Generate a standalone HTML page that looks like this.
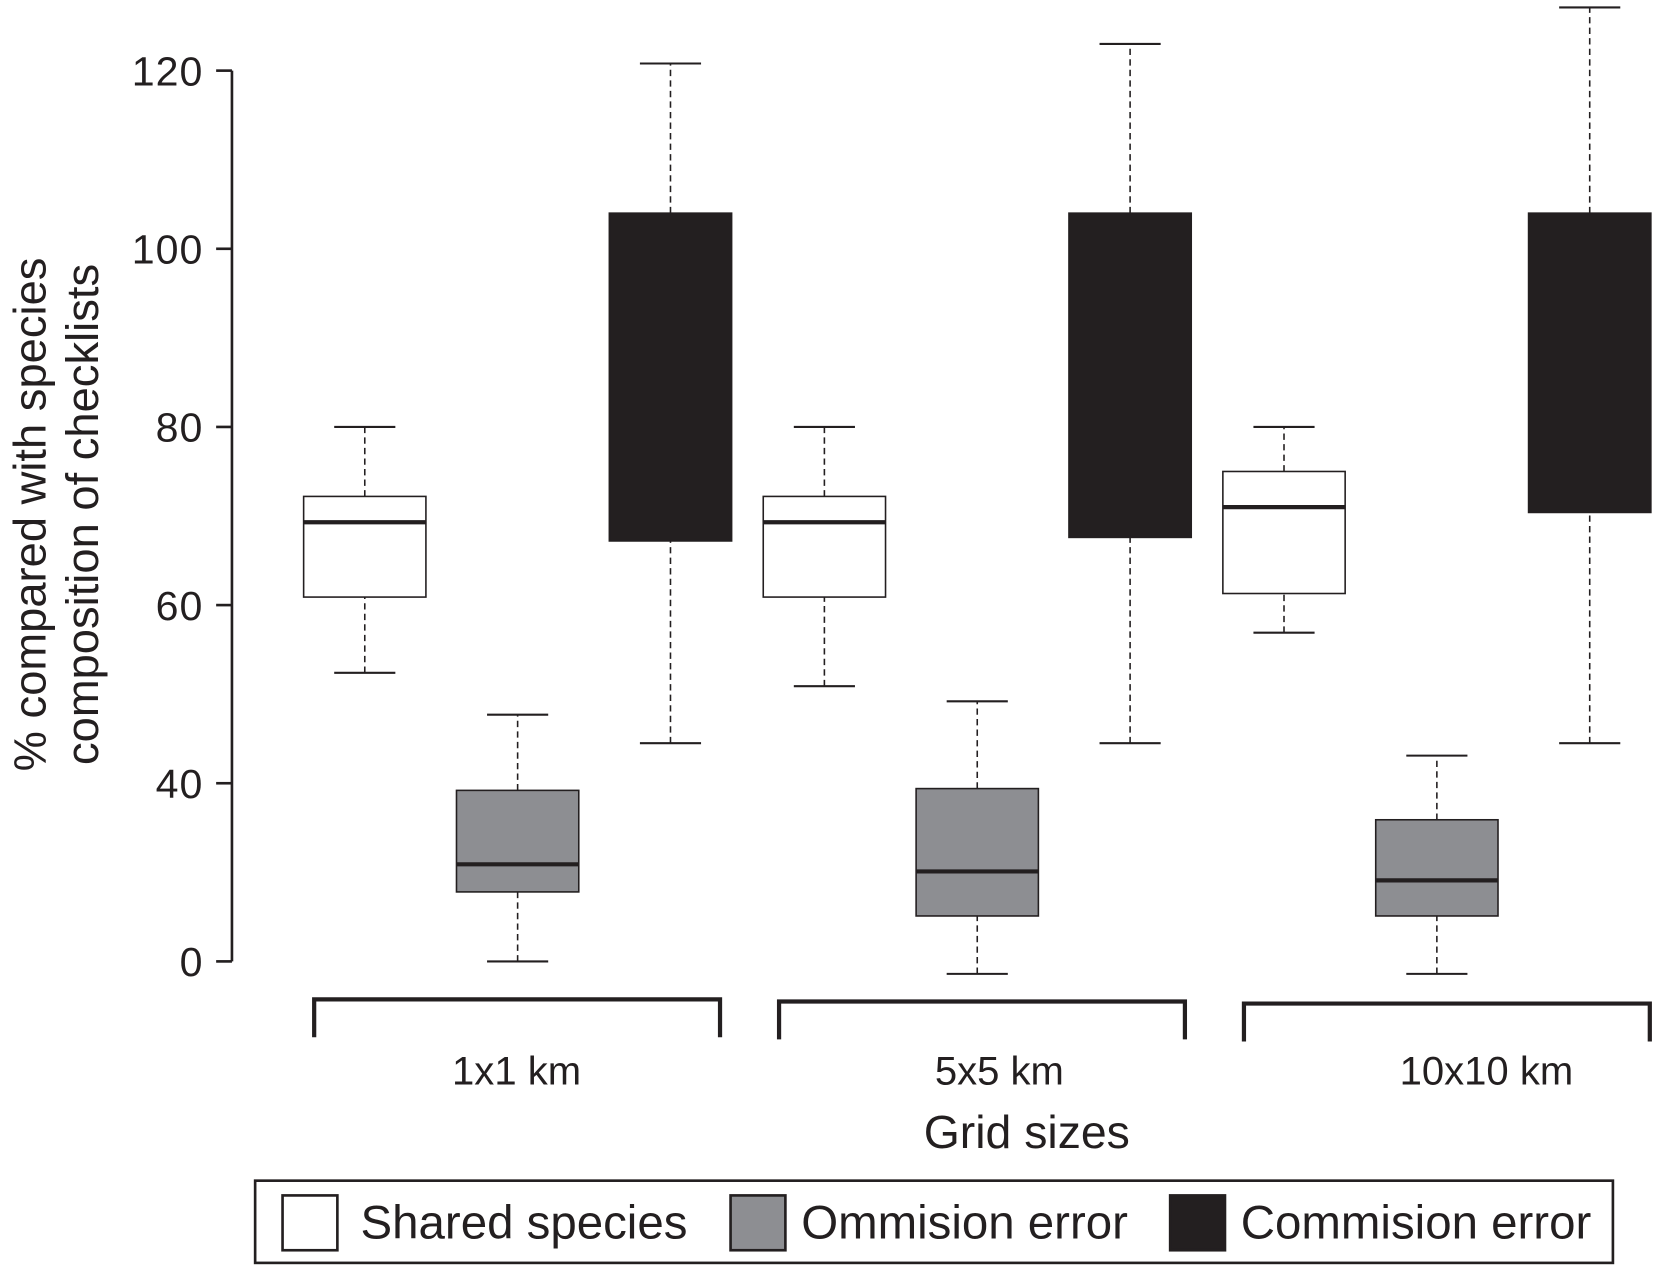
<!DOCTYPE html>
<html><head><meta charset="utf-8"><style>
html,body{margin:0;padding:0;background:#fff;}
svg{display:block;font-family:"Liberation Sans",Arial,sans-serif;}
</style></head><body>
<svg id="chart" width="1653" height="1265" viewBox="0 0 1568 1200" xmlns="http://www.w3.org/2000/svg">
<g id="axis"></g>
<g id="boxes"></g>
<g id="groups"></g>
<text x="974" y="1089" font-size="44" text-anchor="middle" fill="#231f20">Grid sizes</text>
<g transform="translate(53,488) rotate(-90)" fill="#231f20" font-size="43" text-anchor="middle">
<text x="0" y="-10">% compared with species</text>
<text x="0" y="40">composition of checklists</text>
</g>
<g>
<rect x="242" y="1120" width="1288" height="78" fill="#fff" stroke="#231f20" stroke-width="2.5"/>
<g><rect x="268" y="1134" width="52" height="52" fill="#fff" stroke="#231f20" stroke-width="2.5"/><text x="342" y="1175" font-size="45" fill="#231f20">Shared species</text></g>
<g><rect x="693" y="1134" width="52" height="52" fill="#8d8e92" stroke="#231f20" stroke-width="2.5"/><text x="760" y="1175" font-size="45" fill="#231f20">Ommision error</text></g>
<g><rect x="1110" y="1134" width="52" height="52" fill="#231f20" stroke="#231f20" stroke-width="2.5"/><text x="1177" y="1175" font-size="45" fill="#231f20">Commision error</text></g>
</g>
</svg>
<script>
const groups = ['1x1 km','5x5 km','10x10 km'];
const seriesNames = ['Shared species','Ommision error','Commision error'];
const tickValues = [20,40,60,80,100,120];
const tickLabels = ['0','40','60','80','100','120'];
// each: [whiskerLow, q1, median, q3, whiskerHigh]
const shared = [[52.4,60.9,69.3,72.2,80],[50.9,60.9,69.3,72.2,80],[56.9,61.3,71,75,80]];
const ommision = [[20,27.8,30.9,39.2,47.7],[18.6,25.1,30.1,39.4,49.2],[18.6,25.1,29.1,35.9,43.1]];
const commision = [[44.5,67.2,null,104,120.8],[44.5,67.6,null,104,123],[44.5,70.4,null,104,127.1]];

const NS='http://www.w3.org/2000/svg';
const ink='#231f20';
function y(v){return 912-(v-20)*8.45;}
function gx(g,s){return 346+g*436+s*145;}
function mk(tag,attrs,parent){const e=document.createElementNS(NS,tag);for(const k in attrs)e.setAttribute(k,attrs[k]);parent.appendChild(e);return e;}
const ax=document.getElementById('axis');
let l=mk('line',{x1:220,x2:220,y1:y(120),y2:y(20),stroke:ink,'stroke-width':2.5},ax);


tickValues.forEach((v,i)=>{
  const t=mk('line',{x1:205,x2:220,y1:y(v),y2:y(v),stroke:ink,'stroke-width':2.5},ax);
  
  
  const tx=mk('text',{x:193,y:y(v)+14,'font-size':39,'text-anchor':'end',fill:ink,'letter-spacing':1},ax);
  tx.textContent=tickLabels[i];
  
  
});
const bx=document.getElementById('boxes');
const fills=['#fff','#8d8e92',ink];
[shared,ommision,commision].forEach((ser,s)=>{
  ser.forEach((d,g)=>{
    const cx=gx(g,s), w=116;
    const grp=mk('g',{},bx);
    
    
    mk('line',{x1:cx,x2:cx,y1:y(d[0]),y2:y(d[1]),stroke:ink,'stroke-width':1.5,'stroke-dasharray':'6,4'},grp);
    mk('line',{x1:cx,x2:cx,y1:y(d[3]),y2:y(d[4]),stroke:ink,'stroke-width':1.5,'stroke-dasharray':'6,4'},grp);
    mk('line',{x1:cx-29,x2:cx+29,y1:y(d[0]),y2:y(d[0]),stroke:ink,'stroke-width':2},grp);
    mk('line',{x1:cx-29,x2:cx+29,y1:y(d[4]),y2:y(d[4]),stroke:ink,'stroke-width':2},grp);
    mk('rect',{x:cx-w/2,y:y(d[3]),width:w,height:y(d[1])-y(d[3]),fill:fills[s],stroke:ink,'stroke-width':1.5},grp);
    if(d[2]!==null) mk('line',{x1:cx-w/2,x2:cx+w/2,y1:y(d[2]),y2:y(d[2]),stroke:ink,'stroke-width':4},grp);
  });
});
const gg=document.getElementById('groups');
groups.forEach((name,g)=>{
  const x0=298+g*441, x1=x0+385, yt=948+g*2;
  const p=mk('path',{d:`M${x0},${yt+36}V${yt}H${x1}V${yt+36}`,fill:'none',stroke:ink,'stroke-width':4},gg);
  
  
  const t=mk('text',{x:gx(g,1)-1+(g==2?48:(g==1?22:0)),y:1029,'font-size':38,'text-anchor':'middle',fill:ink},gg);
  t.textContent=name;
  
  
});
</script>
</body></html>
